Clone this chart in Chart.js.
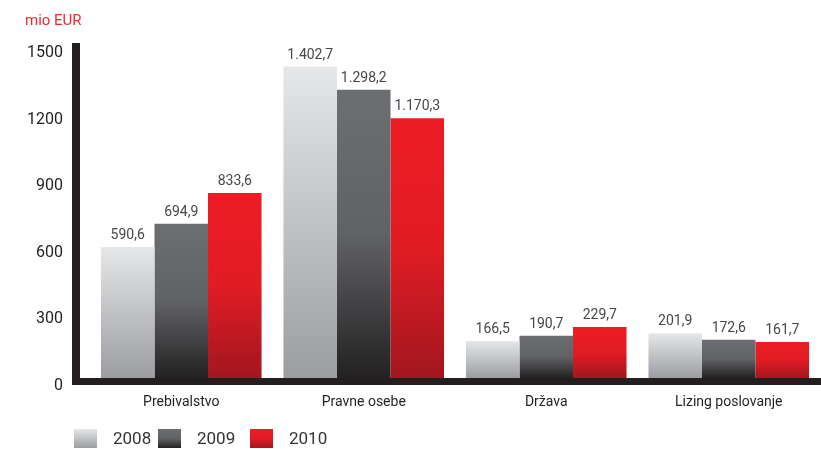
<!DOCTYPE html>
<html>
<head>
<meta charset="utf-8">
<script src="https://cdn.jsdelivr.net/npm/chart.js@4.4.1/dist/chart.umd.min.js"></script>
<style>
  html, body { margin: 0; padding: 0; background: #fff; }
  #wrap { width: 821px; height: 449px; position: relative; }
</style>
</head>
<body>
<div id="wrap"><canvas id="chart"></canvas></div>
<script>
const categories = ["Prebivalstvo", "Pravne osebe", "Država", "Lizing poslovanje"];
const years = ["2008", "2009", "2010"];
const values2008 = [590.6, 1402.7, 166.5, 201.9];
const values2009 = [694.9, 1298.2, 190.7, 172.6];
const values2010 = [833.6, 1170.3, 229.7, 161.7];
const yTicks = [0, 300, 600, 900, 1200, 1500];

// colour stops for each year, top of bar to bottom
const gradientStops = [
    [[0, "#e6e7e8"], [1, "#9c9da1"]],
    [[0, "#6d6e71"], [0.5, "#616265"], [1, "#232122"]],
    [[0, "#ed1c24"], [0.5, "#e11c24"], [1, "#a2161f"]]
];

const FONT = "Roboto, 'Open Sans', sans-serif";
const AXIS_COLOR = "#231f20";

function makeGradient(ctx, top, bottom, stops) {
    const g = ctx.createLinearGradient(0, top, 0, bottom);
    stops.forEach(s => g.addColorStop(s[0], s[1]));
    return g;
}

// each bar gets its own gradient from its top to the baseline
function barFill(dsIndex) {
    return function (context) {
        const chart = context.chart;
        if (!chart.chartArea || context.type !== "data") return gradientStops[dsIndex][0][1];
        const y = chart.scales.y;
        const top = y.getPixelForValue(context.raw);
        const bottom = y.getPixelForValue(0);
        if (bottom - top < 1) return gradientStops[dsIndex][0][1];
        return makeGradient(chart.ctx, top, bottom, gradientStops[dsIndex]);
    };
}

function formatValue(v) {
    const parts = v.toFixed(1).split(".");
    const intPart = parts[0].replace(/\B(?=(\d{3})+(?!\d))/g, ".");
    return intPart + "," + parts[1];
}

// thick axis lines, value labels, unit caption and legend
const decorations = {
    id: "decorations",
    afterDatasetsDraw(chart) {
        const ctx = chart.ctx;
        ctx.save();

        // value labels above the bars
        ctx.font = "14px " + FONT;
        ctx.fillStyle = "#47474a";
        ctx.textAlign = "center";
        ctx.textBaseline = "alphabetic";
        chart.data.datasets.forEach((ds, i) => {
            chart.getDatasetMeta(i).data.forEach((bar, j) => {
                ctx.fillText(formatValue(ds.data[j]), bar.x, bar.y - 8);
            });
        });

        // axes
        const area = chart.chartArea;
        ctx.fillStyle = AXIS_COLOR;
        ctx.fillRect(72, 43, 8, area.bottom + 7 - 43);
        ctx.fillRect(72, area.bottom, chart.width - 72, 7);

        // unit caption
        ctx.font = "15px " + FONT;
        ctx.fillStyle = "#ee2a31";
        ctx.textAlign = "left";
        ctx.textBaseline = "middle";
        ctx.fillText("mio EUR", 25, 21);

        // legend
        const legendX = [74, 158, 250];
        ctx.font = "17px " + FONT;
        years.forEach((yr, i) => {
            const x = legendX[i];
            ctx.fillStyle = makeGradient(ctx, 429, 448, gradientStops[i]);
            ctx.fillRect(x, 429, 23, 19);
            ctx.fillStyle = "#333";
            ctx.fillText(yr, x + 39, 440);
        });
        ctx.restore();
    }
};

const ctx = document.getElementById("chart").getContext("2d");
const chart = new Chart(ctx, {
    type: "bar",
    data: {
        labels: categories,
        datasets: [values2008, values2009, values2010].map((vals, i) => ({
            label: years[i],
            data: vals,
            backgroundColor: barFill(i),
            borderWidth: 0,
            categoryPercentage: 0.88,
            barPercentage: 1.0
        }))
    },
    options: {
        responsive: true,
        maintainAspectRatio: false,
        animation: false,
        layout: { padding: { top: 45, right: 1, bottom: 0, left: 0 } },
        plugins: {
            legend: { display: false },
            tooltip: { enabled: false }
        },
        scales: {
            x: {
                grid: { display: false, drawTicks: false },
                border: { display: false },
                ticks: {
                    color: "#231f20",
                    font: { family: FONT, size: 14 },
                    padding: 16
                },
                afterFit(scale) { scale.height = 71; }
            },
            y: {
                min: 0,
                max: 1500,
                afterBuildTicks(scale) { scale.ticks = yTicks.map(v => ({ value: v })); },
                grid: { display: false, drawTicks: false },
                border: { display: false },
                ticks: {
                    color: "#231f20",
                    font: { family: FONT, size: 16 },
                    padding: 27,
                    labelOffset: 8,
                    callback: v => String(v)
                },
                afterFit(scale) { scale.width = 90; }
            }
        }
    },
    plugins: [decorations]
});
</script>
</body>
</html>
